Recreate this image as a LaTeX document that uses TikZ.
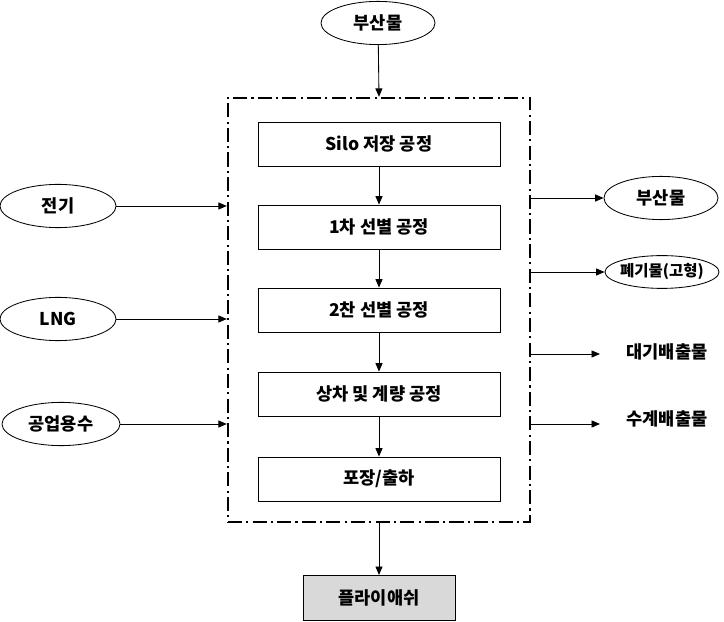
\documentclass[tikz,border=0pt]{standalone}
\usepackage{fontspec}
\setmainfont{Noto Sans CJK KR}
\usetikzlibrary{arrows.meta,shapes.geometric}
\tikzset{>/.tip={Triangle[length=6pt,width=5pt]},
  flow/.style={->,line width=0.6pt},
  proc/.style={draw,line width=0.6pt,minimum width=6.05cm,minimum height=1.1cm,font=\bfseries\fontsize{12.5}{14}\selectfont},
  res/.style={draw,ellipse,line width=0.6pt,minimum width=2.85cm,minimum height=1.08cm,inner sep=0pt,font=\bfseries\fontsize{12.5}{14}\selectfont},
  lbl/.style={font=\bfseries\fontsize{12.5}{14}\selectfont}}

\begin{document}
\begin{tikzpicture}[x=0.025cm,y=-0.025cm]
\useasboundingbox (0,0) rectangle (724,622);
\node[res] (byprodIn) at (378,23) {부산물};
\node[draw,line width=1.6pt,dash pattern=on 10pt off 3pt on 1.5pt off 3pt,minimum width=7.55cm,minimum height=10.6cm] (plant) at (379,310) {};

\node[proc] (silo)  at (379,144) {Silo 저장 공정};
\node[proc] (sort1) at (379,227) {1차 선별 공정};
\node[proc] (sort2) at (379,310) {2찬 선별 공정};
\node[proc] (load)  at (379,394) {상차 및 계량 공정};
\node[proc] (pack)  at (379,479) {포장/출하};
\node[proc,fill=black!15,minimum width=3.8cm,minimum height=1.13cm] (ash) at (379,598) {플라이애쉬};

\node[res,minimum width=2.9cm] (elec) at (58,206) {전기};
\node[res,minimum width=2.9cm] (lng)  at (58,319) {LNG};
\node[res,minimum width=2.95cm] (water) at (61,424) {공업용수};

\node[res] (byprodOut) at (661,198) {부산물};
\node[res,minimum height=0.82cm,inner xsep=-6pt,font=\bfseries\fontsize{11}{13}\selectfont] (waste) at (662,272) {폐기물(고형)};
\node[lbl] (air) at (667,352) {대기배출물};
\node[lbl] (sewer) at (667,419) {수계배출물};
\coordinate (airEnd) at (600,354);
\coordinate (sewerEnd) at (600,424);

\draw[flow] (byprodIn) -- (plant.north);
\draw[flow] (silo) -- (sort1);
\draw[flow] (sort1) -- (sort2);
\draw[flow] (sort2) -- (load);
\draw[flow] (load) -- (pack);
\draw[flow] (plant.south) -- (ash);

\foreach \src in {elec,lng,water}
{
  \draw[flow] (\src) -- (\src -| plant.west);
}
\draw[flow] (plant.east |- byprodOut) -- (byprodOut);
\draw[flow] (plant.east |- waste) -- (waste);
\draw[flow] (plant.east |- airEnd) -- (airEnd);
\draw[flow] (plant.east |- sewerEnd) -- (sewerEnd);
\end{tikzpicture}
\end{document}
